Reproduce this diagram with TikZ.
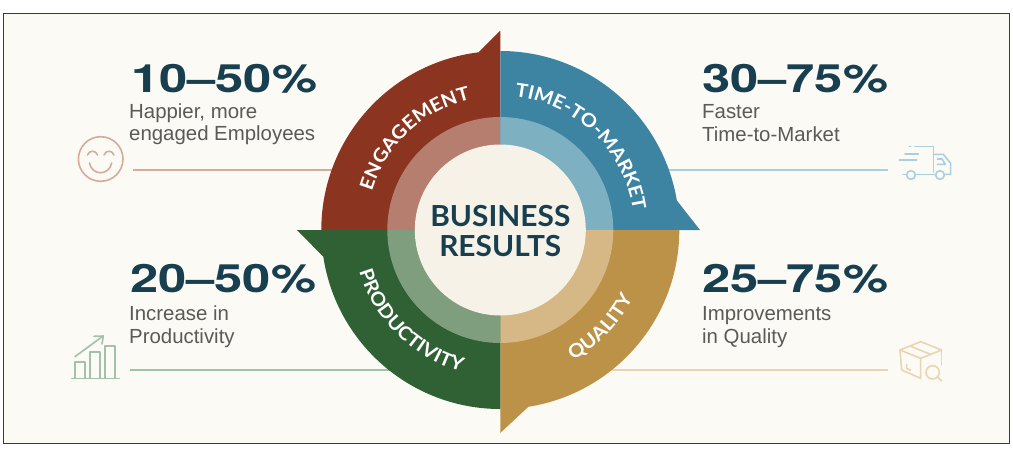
\documentclass[tikz,border=0pt]{standalone}
\usepackage{fontspec}
\setmainfont{Liberation Sans}
\newfontfamily\numfont[FakeStretch=1.3]{TeX Gyre Heros}
\newfontfamily\wheelfont[FakeStretch=1.08]{Lato}
\newfontfamily\hubfont[FakeStretch=1.03]{Lato}
\newfontfamily\bodyfont{Liberation Sans}
\usetikzlibrary{decorations.text,arrows.meta}
\definecolor{bgc}{HTML}{FBFAF5}
\definecolor{framec}{HTML}{3A3A3A}
\definecolor{ink}{HTML}{183F50}
\definecolor{graytxt}{HTML}{5A5A58}
\definecolor{redc}{HTML}{8B3420}
\definecolor{bluec}{HTML}{3D84A3}
\definecolor{goldc}{HTML}{BC9248}
\definecolor{greenc}{HTML}{2F6135}
\definecolor{redl}{HTML}{B57E6F}
\definecolor{bluel}{HTML}{7DB0C0}
\definecolor{goldl}{HTML}{D5B885}
\definecolor{greenl}{HTML}{7E9E7E}
\definecolor{hubc}{HTML}{F6F2E7}
\definecolor{redi}{HTML}{D6AB9E}
\definecolor{bluei}{HTML}{A9D0DC}
\definecolor{goldi}{HTML}{EAD5B2}
\definecolor{greeni}{HTML}{A3C0AA}
\tikzset{
  big/.style={anchor=base west,inner sep=0pt,text=ink,font=\numfont\bfseries\fontsize{39}{39}\selectfont},
  small/.style={anchor=base west,inner sep=0pt,text=graytxt,font=\bodyfont\fontsize{20.4}{20.4}\selectfont},
  leader/.style={line width=1.8pt},
  icon/.style={line width=1.6pt,line cap=round,line join=round},
  curved/.style={shift={(500.3,230)},decorate,decoration={text along path,text align=center,
    text={|\wheelfont\bfseries\fontsize{18.8}{19}\selectfont\color{white}|#1}}},
}
\begin{document}
\begin{tikzpicture}[x=1pt,y=-1pt]
\useasboundingbox (0,0) rectangle (1013,453);
\fill[white] (0,0) rectangle (1013,453);
\draw[draw=framec,fill=bgc,line width=1.2pt] (3.5,13.5) rectangle (1009.5,443.5);
\coordinate (c) at (500.3,230);
% leaders
\coordinate (l1a) at (133,170); \coordinate (l1b) at (340,170);
\coordinate (l2a) at (130,370); \coordinate (l2b) at (400,370);
\coordinate (l3a) at (660,170); \coordinate (l3b) at (888,170);
\coordinate (l4a) at (605,370); \coordinate (l4b) at (888,370);
\draw[leader,redi] (l1a) -- (l1b);
\draw[leader,greeni] (l2a) -- (l2b);
\draw[leader,bluei] (l3a) -- (l3b);
\draw[leader,goldi] (l4a) -- (l4b);
% wheel sectors
\fill[redc] (500.3,230) -- (321.3,230) arc[start angle=-180,end angle=-97,radius=179] -- (500.3,30.7) -- cycle;
\fill[bluec] (500.3,230) -- (500.3,51) arc[start angle=-90,end angle=-9.5,radius=179] -- (700,230) -- cycle;
\fill[goldc] (500.3,230) -- (679.3,230) arc[start angle=0,end angle=81,radius=179] -- (500.3,433) -- cycle;
\fill[greenc] (500.3,230) -- (500.3,409) arc[start angle=90,end angle=171.4,radius=179] -- (297,230) -- cycle;
\fill[redl] (c) -- ++(-113,0) arc[start angle=-180,end angle=-90,radius=113] -- cycle;
\fill[bluel] (c) -- ++(0,-113) arc[start angle=-90,end angle=0,radius=113] -- cycle;
\fill[goldl] (c) -- ++(113,0) arc[start angle=0,end angle=90,radius=113] -- cycle;
\fill[greenl] (c) -- ++(0,113) arc[start angle=90,end angle=180,radius=113] -- cycle;
\fill[hubc] (c) circle[radius=85.5];
\node[font=\hubfont\bfseries\fontsize{29}{30}\selectfont,text=ink,align=center,inner sep=0pt] (hub) at (500.3,231.5) {BUSINESS\\RESULTS};
% curved labels
\path[curved=ENGAGEMENT] (-173:134) arc[start angle=-173,end angle=-93,radius=134];
\path[curved=TIME-TO-MARKET] (-89:134) arc[start angle=-89,end angle=-3,radius=134];
\path[curved=PRODUCTIVITY] (175:147) arc[start angle=175,end angle=94,radius=147];
\path[curved=QUALITY] (80:149) arc[start angle=80,end angle=8,radius=149];
% texts
\node[big] (n1) at (131,92) {10–50\%};
\node[small] (t1a) at (129,118) {Happier, more};
\node[small] (t1b) at (129,140.7) {engaged Employees};
\node[big] (n2) at (702,92) {30–75\%};
\node[small] (t2a) at (702,118) {Faster};
\node[small] (t2b) at (702,141) {Time-to-Market};
\node[big] (n3) at (130,292) {20–50\%};
\node[small] (t3a) at (129,320.7) {Increase in};
\node[small] (t3b) at (129,343) {Productivity};
\node[big] (n4) at (702,292) {25–75\%};
\node[small] (t4a) at (702,320.7) {Improvements};
\node[small] (t4b) at (702,343) {in Quality};
% smile icon
\begin{scope}[icon,redi]
\draw (100.7,159) circle[radius=22.3];
\draw (87.5,155) .. controls (89,150) and (96,150) .. (97.5,155);
\draw (104,155) .. controls (105.5,150) and (112.5,150) .. (114,155);
\draw (89.5,163) .. controls (92,176) and (109,176) .. (111.7,163);
\end{scope}
% chart icon
\begin{scope}[icon,greeni]
\draw (71.7,378.3) -- (119.3,378.3);
\draw (75,378.3) -- (75,361.7) -- (85,361.7) -- (85,378.3);
\draw (90,378.3) -- (90,351.7) -- (100,351.7) -- (100,378.3);
\draw (105,378.3) -- (105,345.7) -- (115,345.7) -- (115,378.3);
\draw (75,356.7) -- (103,336);
\draw (94,336.3) -- (103.3,336) -- (102,344);
\end{scope}
% truck icon
\begin{scope}[icon,bluei,shift={(890,135)},x=0.3333pt,y=-0.3333pt]
\draw (75,35) -- (130,35) -- (130,112);
\draw (130,58) -- (160,58) -- (182,85) -- (182,118) -- (165,118);
\draw (75,118) -- (135,118);
\draw (38,118) -- (50,118);
\draw (28,75) -- (80,75);
\draw (45,57) -- (85,57);
\draw (58,35) -- (62,35);
\draw (142,72) -- (156,72) -- (166,88) -- (142,88);
\draw (63,120) circle[radius=13];
\draw (150,120) circle[radius=13];
\end{scope}
% box icon
\begin{scope}[icon,goldi,shift={(890,335)},x=0.3333pt,y=-0.3333pt]
\draw (30,45) -- (92,20) -- (155,45) -- (92,70) -- cycle;
\draw (30,45) -- (35,105) -- (92,130) -- (92,70);
\draw (155,45) -- (155,90);
\draw (60,33) -- (122,58);
\draw (50,88) -- (50,100) -- (62,106);
\draw (128,112) circle[radius=20];
\draw (143,126) -- (155,138);
\end{scope}
\end{tikzpicture}
\end{document}
